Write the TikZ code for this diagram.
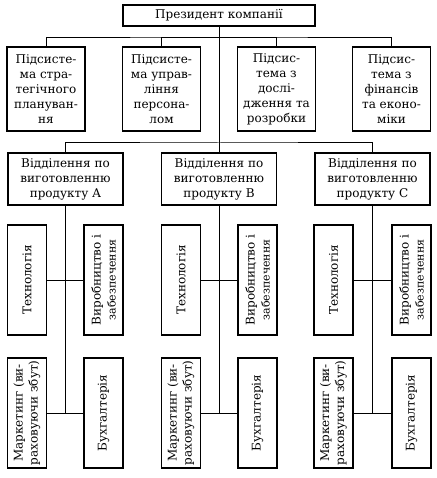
\documentclass[tikz,border=0pt]{standalone}
\usepackage{fontspec}
\setmainfont{DejaVu Serif}
\usepackage{tikz}
\usetikzlibrary{calc,positioning}

\begin{document}
\begin{tikzpicture}[x=1pt,y=-1pt,
  unit/.style={draw,line width=1.2,align=center,inner sep=1pt,
    font=\fontsize{12}{15}\selectfont},
  sub/.style={unit,minimum width=78,minimum height=84},
  dept/.style={unit,minimum width=115,minimum height=52},
  cell/.style={unit,rotate=90,minimum width=110,minimum height=39},
  link/.style={line width=1}]
  \useasboundingbox (0,0) rectangle (436,478);

  \node[unit,minimum width=192,minimum height=21] at (219, 15.5) (President) {Президент компанії};

  \node[sub] at (46, 89) (Strategy) {Підсисте-\\ма стра-\\тегічного\\плануван-\\ня};
  \node[sub] at (161.5, 89) (Personnel) {Підсисте-\\ма управ-\\ління\\персона-\\лом};
  \node[sub] at (276.5, 89) (Research) {Підсис-\\тема з\\дослі-\\дження та\\розробки};
  \node[sub] at (391.5, 89) (Finance) {Підсис-\\тема з\\фінансів\\та еконо-\\міки};

  \coordinate (TopBus) at (219, 38);
  \draw[link] (Strategy.north) |- (TopBus) -| (Finance.north);
  \draw[link] (Personnel.north) |- (TopBus);
  \draw[link] (Research.north) |- (TopBus);

  \node[dept] at (65.5, 179) (Div A) {Відділення по\\виготовленню\\продукту А};
  \node[dept] at (219, 179) (Div B) {Відділення по\\виготовленню\\продукту В};
  \node[dept] at (372.5, 179) (Div C) {Відділення по\\виготовленню\\продукту С};

  \coordinate (MidBus) at (219, 143);
  \draw[link] (President.south) -- (Div B.north);
  \draw[link] (Div A.north) |- (MidBus) -| (Div C.north);

  % product A
  \node[cell] at (27, 280) (Tech A) {Технологія};
  \node[cell] at (103.5, 280) (Prod A) {Виробництво і\\{\fontsize{11}{12}\selectfont забезпечення}};
  \node[cell] at (27, 413) (Market A) {Маркетинг (ви-\\раховуючи збут)};
  \node[cell] at (103.5, 413) (Account A) {Бухгалтерія};
  \draw[link] (Div A.south) -- (Div A.south |- Market A.center);
  \draw[link] (Tech A) -- (Prod A);
  \draw[link] (Market A) -- (Account A);

  % product B
  \node[cell] at (181, 280) (Tech B) {Технологія};
  \node[cell] at (257.5, 280) (Prod B) {Виробництво і\\{\fontsize{11}{12}\selectfont забезпечення}};
  \node[cell] at (181, 413) (Market B) {Маркетинг (ви-\\раховуючи збут)};
  \node[cell] at (257.5, 413) (Account B) {Бухгалтерія};
  \draw[link] (Div B.south) -- (Div B.south |- Market B.center);
  \draw[link] (Tech B) -- (Prod B);
  \draw[link] (Market B) -- (Account B);

  % product C
  \node[cell] at (333.5, 280) (Tech C) {Технологія};
  \node[cell] at (411.5, 280) (Prod C) {Виробництво і\\{\fontsize{11}{12}\selectfont забезпечення}};
  \node[cell] at (333.5, 413) (Market C) {Маркетинг (ви-\\раховуючи збут)};
  \node[cell] at (411.5, 413) (Account C) {Бухгалтерія};
  \draw[link] (Div C.south) -- (Div C.south |- Market C.center);
  \draw[link] (Tech C) -- (Prod C);
  \draw[link] (Market C) -- (Account C);
\end{tikzpicture}
\end{document}
